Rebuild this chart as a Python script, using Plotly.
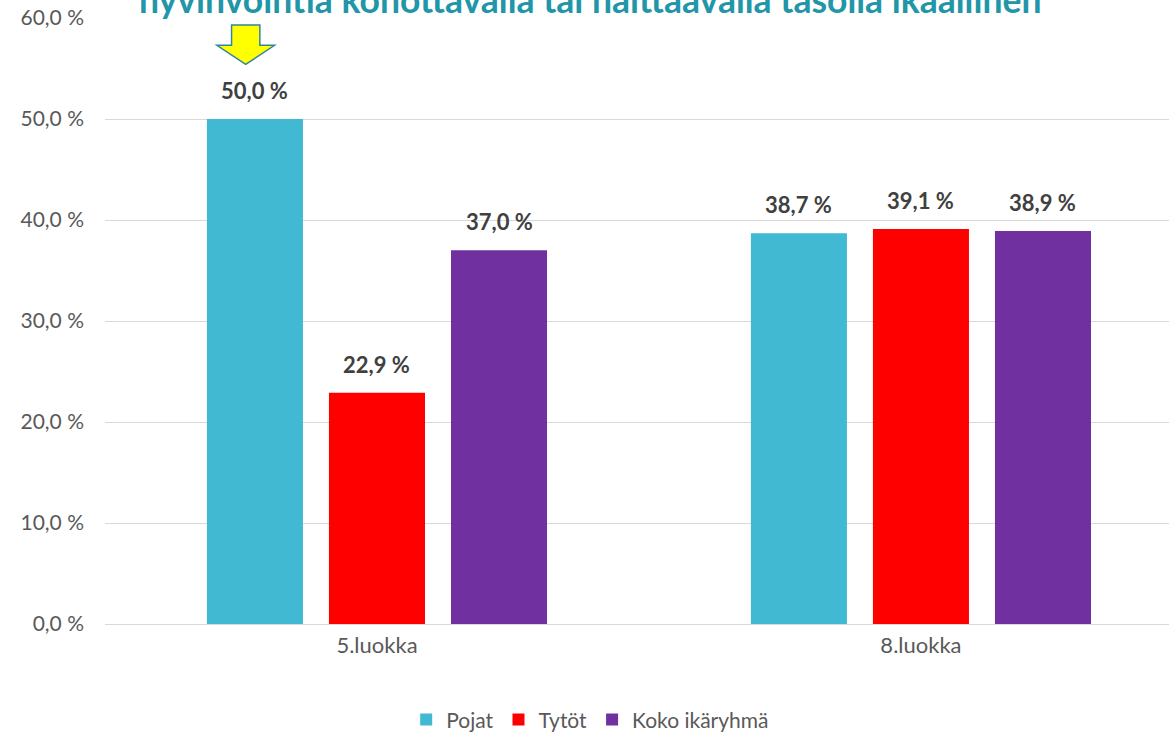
import plotly.graph_objects as go

categories = ["5.luokka", "8.luokka"]
series_names = ["Pojat", "Tytöt", "Koko ikäryhmä"]
pojat = [50.0, 38.7]
tytot = [22.9, 39.1]
koko = [37.0, 38.9]
series_values = [pojat, tytot, koko]
colors = ["#41b9d2", "#ff0000", "#7030a0"]
y_ticks = [0, 10, 20, 30, 40, 50, 60]
title_text = "hyvinvointia kohottavalla tai haittaavalla tasolla ikäällinen"

FONT = "Lato"

def fi(v):
    return f"{v:.1f}".replace(".", ",") + " %"

fig = go.Figure()
for name, vals, col in zip(series_names, series_values, colors):
    fig.add_trace(go.Bar(
        name=name, x=categories, y=vals, marker=dict(color=col, line=dict(width=0)),
    ))

bargap = 0.327
groupgap = 0.213
n = len(series_names)
slot = (1 - bargap) / n
annotations = []
for i, (name, vals) in enumerate(zip(series_names, series_values)):
    off = (i - (n - 1) / 2) * slot
    for ci, v in enumerate(vals):
        annotations.append(dict(
            x=ci + off, y=v, xref="x", yref="y", text="<b>" + fi(v) + "</b>",
            showarrow=False, yanchor="bottom", yshift=13,
            font=dict(family=FONT, size=22, color="#404040"),
        ))

annotations.append(dict(
    text="<b>" + title_text + "</b>", xref="paper", yref="paper",
    x=0.456, y=1.0304, xanchor="center", yanchor="middle", showarrow=False,
    font=dict(family=FONT, size=35.5, color="#2196a8"),
))

# yellow arrow decoration (data coords near the first bar)
ax = -slot - 0.017
hw_head = 0.053
hw_shaft = 0.026
y_top, y_mid, y_tip = 59.3, 57.3, 55.4
path = (f"M {ax-hw_shaft},{y_top} L {ax+hw_shaft},{y_top} L {ax+hw_shaft},{y_mid} "
        f"L {ax+hw_head},{y_mid} L {ax},{y_tip} L {ax-hw_head},{y_mid} "
        f"L {ax-hw_shaft},{y_mid} Z")
shapes = [dict(type="path", xref="x", yref="y", path=path,
               fillcolor="#ffff00", line=dict(color="#31859c", width=1.5))]

fig.update_layout(
    width=1169, height=734,
    margin=dict(l=105, r=0, t=18, b=110, autoexpand=False),
    paper_bgcolor="white", plot_bgcolor="white",
    barmode="group", bargap=bargap, bargroupgap=groupgap,
    separators=", ",
    font=dict(family=FONT, color="#595959"),
    showlegend=True,
    legend=dict(orientation="h", xref="paper", yref="paper",
                x=0.456, y=-0.158, xanchor="center", yanchor="middle",
                font=dict(family=FONT, size=21, color="#595959"),
                itemwidth=30, traceorder="normal"),
    xaxis=dict(range=[-0.5, 1.456], showgrid=False, showline=False, zeroline=False,
               ticks="", tickfont=dict(family=FONT, size=22, color="#595959"),
               ticklabelstandoff=6),
    yaxis=dict(range=[0, 60], tickvals=y_ticks,
               ticktext=[fi(t) for t in y_ticks],
               showgrid=True, gridcolor="#d9d9d9", gridwidth=1.3,
               zeroline=True, zerolinecolor="#d9d9d9", zerolinewidth=1.3,
               showline=False, ticks="", ticklabeloverflow="allow",
               tickfont=dict(family=FONT, size=21, color="#595959"),
               ticklabelstandoff=20),
    annotations=annotations, shapes=shapes,
)

fig.write_html("out.html", config={"displayModeBar": False},
               post_script="document.body.style.margin='0px';document.body.style.overflow='hidden';")
